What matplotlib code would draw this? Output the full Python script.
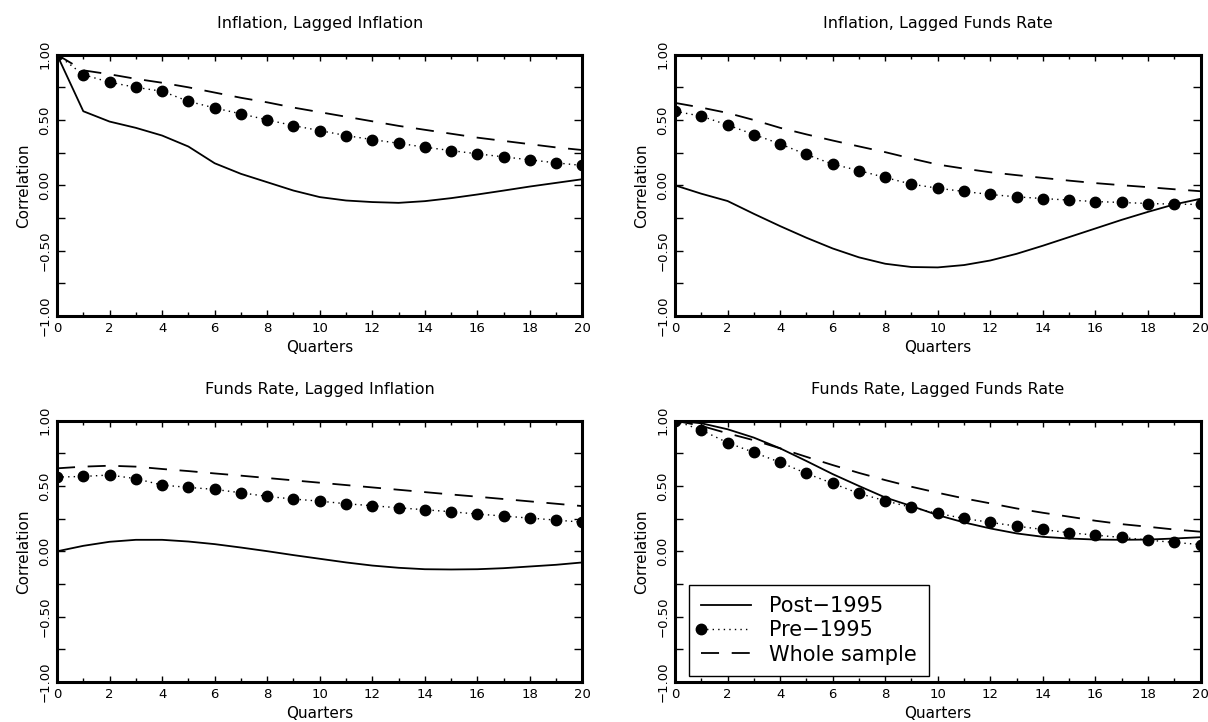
import numpy as np
import matplotlib
matplotlib.use("Agg")
import matplotlib.pyplot as plt
from matplotlib.ticker import MultipleLocator, FuncFormatter
from matplotlib.legend_handler import HandlerLine2D

plt.rcParams['font.family'] = ['DejaVu Sans']

quarters = list(range(21))

titles = ["Inflation, Lagged Inflation", "Inflation, Lagged Funds Rate",
          "Funds Rate, Lagged Inflation", "Funds Rate, Lagged Funds Rate"]

# Post-1995 (solid)
post_infl_infl = [1.0, 0.567, 0.488, 0.44, 0.381, 0.297, 0.169, 0.088, 0.024, -0.04, -0.09,
                  -0.116, -0.128, -0.134, -0.121, -0.098, -0.07, -0.04, -0.009, 0.019, 0.047]
post_infl_ff = [0.0, -0.064, -0.12, -0.218, -0.312, -0.401, -0.483, -0.551, -0.6, -0.625, -0.628,
                -0.61, -0.575, -0.524, -0.462, -0.396, -0.33, -0.264, -0.203, -0.146, -0.103]
post_ff_infl = [0.0, 0.042, 0.073, 0.088, 0.088, 0.075, 0.055, 0.029, 0.001, -0.029, -0.057,
                -0.085, -0.109, -0.126, -0.137, -0.139, -0.137, -0.129, -0.116, -0.103, -0.085]
post_ff_ff = [1.0, 0.98, 0.934, 0.87, 0.788, 0.691, 0.591, 0.5, 0.412, 0.346, 0.277,
              0.221, 0.175, 0.137, 0.111, 0.098, 0.09, 0.088, 0.09, 0.098, 0.108]

# Pre-1995 (dots)
pre_infl_infl = [1.0, 0.847, 0.789, 0.75, 0.72, 0.643, 0.592, 0.547, 0.501, 0.457, 0.419,
                 0.381, 0.35, 0.322, 0.292, 0.266, 0.241, 0.218, 0.195, 0.172, 0.152]
pre_infl_ff = [0.567, 0.529, 0.462, 0.389, 0.317, 0.236, 0.162, 0.113, 0.06, 0.009, -0.022,
               -0.047, -0.07, -0.088, -0.101, -0.113, -0.124, -0.131, -0.139, -0.144, -0.146]
pre_ff_infl = [0.568, 0.573, 0.584, 0.556, 0.507, 0.489, 0.474, 0.448, 0.42, 0.4, 0.384,
               0.364, 0.349, 0.333, 0.318, 0.303, 0.285, 0.27, 0.254, 0.239, 0.223]
pre_ff_ff = [1.0, 0.928, 0.831, 0.757, 0.681, 0.596, 0.52, 0.443, 0.387, 0.336, 0.29,
             0.252, 0.221, 0.193, 0.167, 0.142, 0.124, 0.106, 0.086, 0.068, 0.052]

# Whole sample (dashed)
whole_infl_infl = [1.0, 0.88, 0.85, 0.815, 0.785, 0.75, 0.71, 0.67, 0.635, 0.595, 0.56,
                   0.525, 0.49, 0.455, 0.425, 0.395, 0.365, 0.34, 0.315, 0.29, 0.27]
whole_infl_ff = [0.631, 0.595, 0.554, 0.5, 0.44, 0.39, 0.343, 0.298, 0.254, 0.205, 0.159,
                 0.128, 0.10, 0.078, 0.057, 0.036, 0.017, 0.001, -0.014, -0.03, -0.045]
whole_ff_infl = [0.635, 0.648, 0.655, 0.648, 0.63, 0.614, 0.596, 0.579, 0.561, 0.543, 0.525,
                 0.507, 0.489, 0.471, 0.453, 0.435, 0.418, 0.4, 0.382, 0.364, 0.346]
whole_ff_ff = [1.0, 0.96, 0.903, 0.85, 0.788, 0.723, 0.66, 0.6, 0.545, 0.494, 0.448,
               0.405, 0.367, 0.328, 0.295, 0.265, 0.234, 0.208, 0.188, 0.167, 0.15]

post = [post_infl_infl, post_infl_ff, post_ff_infl, post_ff_ff]
pre = [pre_infl_infl, pre_infl_ff, pre_ff_infl, pre_ff_ff]
whole = [whole_infl_infl, whole_infl_ff, whole_ff_infl, whole_ff_ff]


class MarkerLeft(HandlerLine2D):
    # put the big dot at the start of the legend line, like the original
    def create_artists(self, *args, **kwargs):
        arts = super().create_artists(*args, **kwargs)
        for a in arts:
            a.set_markevery([0])
        return arts


def minus(v, pos):
    return f"{v:.2f}".replace('-', '\u2212')


fig = plt.figure(figsize=(12.08, 7.22), dpi=100)
positions = [[0.0472, 0.5623, 0.435, 0.362], [0.5588, 0.5623, 0.435, 0.362],
             [0.0472, 0.0554, 0.435, 0.362], [0.5588, 0.0554, 0.435, 0.362]]

for i in range(4):
    ax = fig.add_axes(positions[i])
    l1, = ax.plot(quarters, post[i], color='black', lw=1.3, label='Post\u22121995')
    l2, = ax.plot(quarters, pre[i], color='black', lw=1.0, linestyle=(0, (1, 3)),
                  marker='o', markersize=7.5, label='Pre\u22121995')
    l3, = ax.plot(quarters, whole[i], color='black', lw=1.3, linestyle=(0, (10, 7)),
                  label='Whole sample')
    ax.set_xlim(0, 20)
    ax.set_ylim(-1, 1)
    ax.xaxis.set_major_locator(MultipleLocator(2))
    ax.xaxis.set_minor_locator(MultipleLocator(1))
    ax.yaxis.set_major_locator(MultipleLocator(0.5))
    ax.yaxis.set_minor_locator(MultipleLocator(0.25))
    ax.yaxis.set_major_formatter(FuncFormatter(minus))
    ax.tick_params(which='both', direction='in', top=True, right=True, width=1.0,
                   labelsize=9.5)
    ax.tick_params(axis='x', which='major', length=4, pad=4)
    ax.tick_params(axis='x', which='minor', length=3)
    ax.tick_params(axis='y', which='both', length=6, pad=4)
    for lab in ax.get_yticklabels():
        lab.set_rotation(90)
        lab.set_va('center')
    for sp in ax.spines.values():
        sp.set_linewidth(2.2)
    ax.set_title(titles[i], fontsize=11.5, pad=19)
    ax.set_xlabel("Quarters", fontsize=11, labelpad=4)
    ax.set_ylabel("Correlation", fontsize=11, labelpad=5)

    if i == 3:
        leg = ax.legend(handles=[l1, l2, l3], loc='lower left',
                        bbox_to_anchor=(0.027, 0.023), borderaxespad=0,
                        fontsize=15, frameon=True, fancybox=False,
                        edgecolor='black', framealpha=1, numpoints=1,
                        handlelength=2.4, handletextpad=0.9, labelspacing=0.2,
                        borderpad=0.55, handler_map={l2: MarkerLeft()})
        leg.get_frame().set_linewidth(1.0)

fig.savefig("out.png", dpi=100)
